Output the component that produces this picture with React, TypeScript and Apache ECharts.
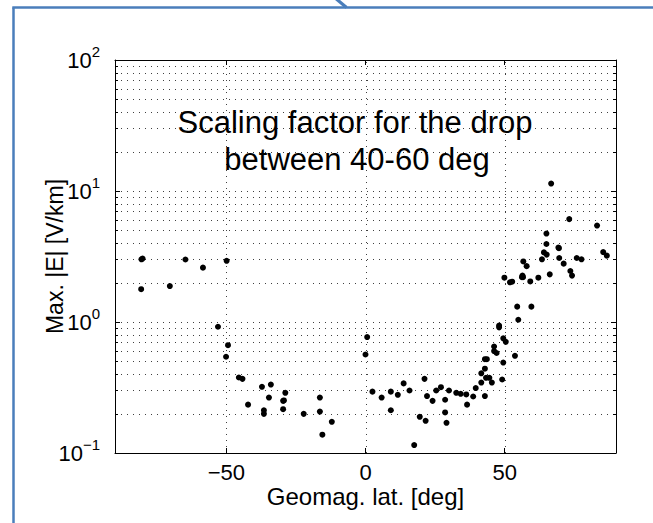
import React, { useEffect, useRef } from "react";
import * as echarts from "echarts";

// [geomagnetic latitude (deg), max |E| (V/km)]
const southPoints: [number, number][] = [
  [-80.5, 3.01], [-80.1, 3.05], [-64.7, 3.0], [-58.4, 2.6], [-49.9, 2.93],
  [-80.6, 1.78], [-70.3, 1.88], [-53.0, 0.92], [-49.4, 0.665], [-50.1, 0.543],
  [-45.5, 0.377], [-44.2, 0.368], [-37.2, 0.32], [-34.0, 0.333], [-28.8, 0.288],
  [-34.7, 0.265], [-29.6, 0.25], [-29.3, 0.252], [-42.2, 0.234], [-36.5, 0.212],
  [-36.5, 0.199], [-29.6, 0.216], [-22.2, 0.199], [-16.4, 0.265], [-16.4, 0.207],
  [-12.1, 0.173], [-15.5, 0.138],
];

const equatorPoints: [number, number][] = [
  [0.0, 0.565], [0.6, 0.767], [2.5, 0.294], [5.8, 0.265], [9.1, 0.294],
  [9.1, 0.212], [11.6, 0.278], [13.7, 0.34], [15.8, 0.30], [17.5, 0.115],
  [19.5, 0.189], [21.6, 0.176], [21.2, 0.368], [22.1, 0.272], [24.1, 0.25],
  [25.4, 0.30], [27.1, 0.318], [28.6, 0.255], [28.6, 0.204], [29.1, 0.170],
  [30.0, 0.30], [32.6, 0.288], [34.2, 0.283], [36.2, 0.28], [36.5, 0.234],
  [38.7, 0.27], [39.6, 0.313],
];

const risePoints: [number, number][] = [
  [41.6, 0.345], [41.6, 0.406], [42.9, 0.44], [42.9, 0.52], [43.6, 0.52],
  [43.3, 0.375], [44.5, 0.375], [42.9, 0.272], [45.4, 0.345], [46.2, 0.65],
  [46.2, 0.60], [47.1, 0.58], [48.0, 0.94], [48.0, 0.91], [49.1, 0.364],
  [49.5, 0.49], [49.5, 0.75], [50.4, 0.706],
];

const northPoints: [number, number][] = [
  [49.9, 2.18], [51.9, 2.01], [52.7, 2.03], [53.7, 0.552], [54.5, 1.31],
  [54.9, 1.04], [56.2, 2.2], [56.4, 2.26], [56.6, 2.2], [56.7, 2.9],
  [57.9, 2.67], [59.2, 2.04], [59.6, 1.31], [62.1, 2.18], [63.4, 3.01],
  [66.2, 2.31], [71.2, 2.79], [73.6, 2.45], [74.2, 2.26], [77.6, 3.01],
  [75.9, 3.08], [66.7, 11.4], [73.2, 6.1], [83.2, 5.45], [65.0, 4.73],
  [65.0, 3.94], [69.3, 3.70], [69.5, 3.66], [64.1, 3.40], [65.1, 3.27],
  [69.6, 3.08], [85.4, 3.42], [86.7, 3.21],
];

const xMin = -90;
const xMax = 90;
const yMin = 0.1;
const yMax = 100;
const xTicks = [-50, 0, 50];
const yMinorTicks = [
  0.2, 0.3, 0.4, 0.5, 0.6, 0.7, 0.8, 0.9,
  2, 3, 4, 5, 6, 7, 8, 9,
  20, 30, 40, 50, 60, 70, 80, 90,
];
const yMajorGrid = [1, 10];

const titleLines = ["Scaling factor for the drop", "between 40-60 deg"];
const xAxisTitle = "Geomag. lat. [deg]";
const yAxisTitle = "Max. |E| [V/km]";

const FONT = "'Liberation Sans', Arial, Helvetica, sans-serif";

export default function App() {
  const ref = useRef<HTMLDivElement>(null);

  useEffect(() => {
    if (!ref.current) return;
    const chart = echarts.init(ref.current, undefined, { renderer: "svg" });

    const points = [...southPoints, ...equatorPoints, ...risePoints, ...northPoints];

    const hGrid = [...yMinorTicks.map((v) => [xMin, v, 0]), ...yMajorGrid.map((v) => [xMin, v, 1])];
    const vGrid = xTicks.map((x) => [x, yMin]);

    const dotted = { stroke: "#000", lineWidth: 1, lineDash: [1, 5], opacity: 0.75 };
    const crisp = (v: number) => Math.round(v) + 0.5;

    const option: any = {
      animation: false,
      backgroundColor: "#fff",
      grid: {
        left: 115,
        top: 60,
        right: 37,
        bottom: 70,
        show: false,
      },
      xAxis: [
        {
          type: "value",
          min: xMin,
          max: xMax,
          position: "bottom",
          name: xAxisTitle,
          nameLocation: "middle",
          nameGap: 31,
          nameMoveOverlap: false,
          nameTextStyle: { fontFamily: FONT, fontSize: 24, lineHeight: 24, color: "#000" },
          axisLine: { show: true, onZero: false, lineStyle: { color: "#000", width: 1 } },
          axisTick: { show: true, inside: true, length: 5, customValues: xTicks, lineStyle: { color: "#000" } },
          axisLabel: {
            customValues: xTicks,
            margin: 8,
            fontFamily: FONT,
            fontSize: 22,
            lineHeight: 22,
            color: "#000",
            formatter: (v: number) => (v < 0 ? "\u2212" + Math.abs(v) : String(v)),
          },
          splitLine: { show: false },
        },
        {
          type: "value",
          min: xMin,
          max: xMax,
          position: "top",
          axisLine: { show: true, onZero: false, lineStyle: { color: "#000", width: 1 } },
          axisTick: { show: true, inside: true, length: 5, customValues: xTicks, lineStyle: { color: "#000" } },
          axisLabel: { show: false },
          splitLine: { show: false },
        },
      ],
      yAxis: [
        {
          type: "log",
          logBase: 10,
          min: yMin,
          max: yMax,
          position: "left",
          name: yAxisTitle,
          nameLocation: "middle",
          nameGap: 49,
          nameMoveOverlap: false,
          nameTextStyle: { fontFamily: FONT, fontSize: 23, lineHeight: 23, color: "#000" },
          axisLine: { show: true, onZero: false, lineStyle: { color: "#000", width: 1 } },
          axisTick: { show: true, inside: true, length: 5, lineStyle: { color: "#000" } },
          axisLabel: {
            margin: 15,
            color: "#000",
            formatter: (v: number) => {
              const e = Math.round(Math.log10(v));
              return "{b|10}{s|" + (e < 0 ? "\u2212" + Math.abs(e) : String(e)) + "}";
            },
            rich: {
              b: { fontFamily: FONT, fontSize: 22, color: "#000", lineHeight: 32, verticalAlign: "middle" },
              s: { fontFamily: FONT, fontSize: 15, color: "#000", lineHeight: 18, verticalAlign: "top" },
            },
          },
          splitLine: { show: false },
        },
        {
          type: "log",
          logBase: 10,
          min: yMin,
          max: yMax,
          position: "right",
          axisLine: { show: true, onZero: false, lineStyle: { color: "#000", width: 1 } },
          axisTick: { show: true, inside: true, length: 5, lineStyle: { color: "#000" } },
          axisLabel: { show: false },
          splitLine: { show: false },
        },
      ],
      graphic: [
        {
          type: "line",
          shape: { x1: 13.5, y1: 7.5, x2: 13.5, y2: 530 },
          style: { stroke: "#4a7ebb", lineWidth: 2.5 },
          silent: true,
        },
        {
          type: "line",
          shape: { x1: 12.3, y1: 7.5, x2: 660, y2: 7.5 },
          style: { stroke: "#4a7ebb", lineWidth: 2.5 },
          silent: true,
        },
        {
          type: "line",
          shape: { x1: 334, y1: -3, x2: 346.5, y2: 7.5 },
          style: { stroke: "#4a7ebb", lineWidth: 3.2 },
          silent: true,
        },
        {
          type: "text",
          x: 355,
          y: 122,
          z: 10,
          style: {
            text: titleLines[0],
            font: "31px " + FONT,
            fill: "#000",
            align: "center",
            verticalAlign: "middle",
            textAlign: "center",
            textVerticalAlign: "middle",
          },
        },
        {
          type: "text",
          x: 357,
          y: 159,
          z: 10,
          style: {
            text: titleLines[1],
            font: "31px " + FONT,
            fill: "#000",
            align: "center",
            verticalAlign: "middle",
            textAlign: "center",
            textVerticalAlign: "middle",
          },
        },
      ],
      series: [
        {
          type: "custom",
          name: "hgrid",
          xAxisIndex: 0,
          yAxisIndex: 0,
          silent: true,
          z: 1,
          clip: false,
          data: hGrid,
          renderItem: (_params: any, api: any) => {
            const v = api.value(1);
            const isMajor = api.value(2) === 1;
            const p1 = api.coord([xMin, v]);
            const p2 = api.coord([xMax, v]);
            const y = crisp(p1[1]);
            const children: any[] = [
              { type: "line", shape: { x1: p1[0], y1: y, x2: p2[0], y2: y }, style: dotted },
            ];
            if (!isMajor) {
              children.push(
                { type: "line", shape: { x1: p1[0], y1: y, x2: p1[0] + 3, y2: y }, style: { stroke: "#000", lineWidth: 1 } },
                { type: "line", shape: { x1: p2[0] - 3, y1: y, x2: p2[0], y2: y }, style: { stroke: "#000", lineWidth: 1 } }
              );
            }
            return { type: "group", children };
          },
        },
        {
          type: "custom",
          name: "vgrid",
          xAxisIndex: 0,
          yAxisIndex: 0,
          silent: true,
          z: 1,
          clip: false,
          data: vGrid,
          renderItem: (_params: any, api: any) => {
            const x = api.value(0);
            const p1 = api.coord([x, yMin]);
            const p2 = api.coord([x, yMax]);
            const cx = crisp(p1[0]);
            return {
              type: "line",
              shape: { x1: cx, y1: p1[1], x2: cx, y2: p2[1] },
              style: dotted,
            };
          },
        },
        {
          type: "scatter",
          name: "Max |E|",
          xAxisIndex: 0,
          yAxisIndex: 0,
          z: 5,
          symbol: "circle",
          symbolSize: 6,
          itemStyle: { color: "#000", opacity: 1 },
          data: points,
        },
      ],
    };

    chart.setOption(option);
    return () => chart.dispose();
  }, []);

  return (
    <div
      ref={ref}
      style={{ position: "fixed", left: 0, top: 0, width: 653, height: 523, background: "#fff" }}
    />
  );
}
